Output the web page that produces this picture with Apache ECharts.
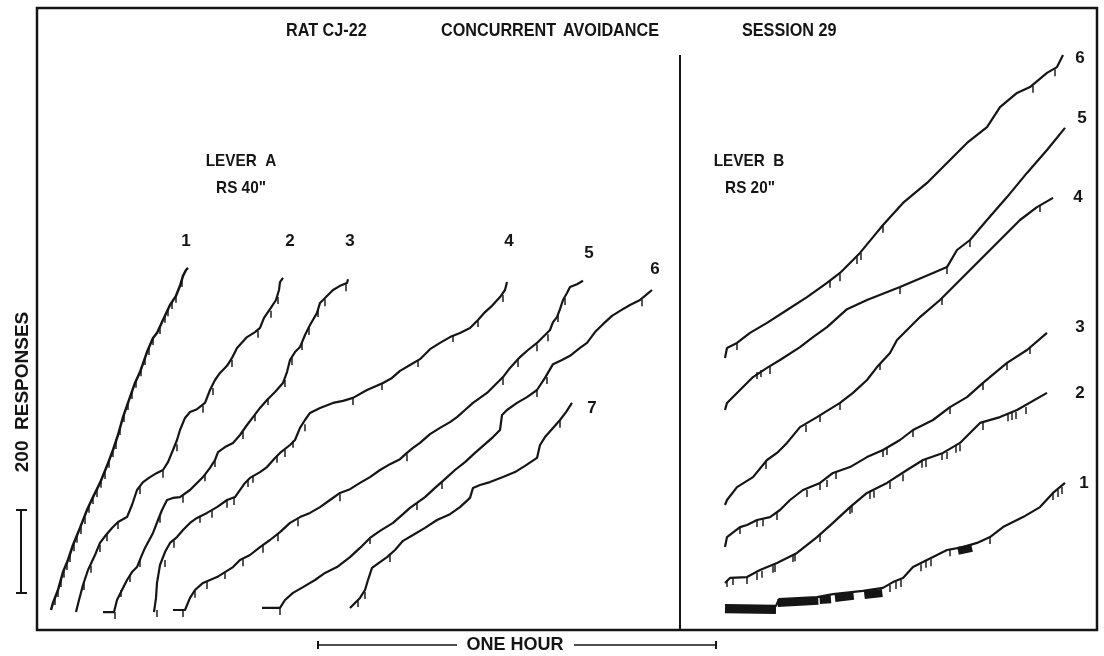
<!DOCTYPE html>
<html><head><meta charset="utf-8">
<script src="https://cdn.jsdelivr.net/npm/echarts@6/dist/echarts.min.js"></script>
<style>html,body{margin:0;padding:0;background:#fff}#c{width:1104px;height:656px}</style>
</head><body><div id="c"></div><script>
// x: minutes, y: cumulative responses
const A1 = [[2.1,48],[2.4,65],[3.15,96],[3.9,139],[4.65,168],[5.4,204],[6.45,245],[7.5,288],[8.4,319],[9.45,353],[10.5,394],[11.4,432],[12.15,468],[12.9,511],[13.95,559],[14.7,593],[15.45,619],[16.5,667],[17.4,701],[18,713],[18.9,744],[19.95,780],[20.85,802],[21.45,826],[21.9,850],[22.35,864],[22.65,869]];
const A1_PIPS = [[2.7,77],[3.15,96],[3.6,120],[4.05,142],[4.5,161],[4.95,180],[5.55,206],[6,226],[6.6,247],[7.2,271],[7.8,298],[8.4,319],[9,336],[9.6,358],[10.2,379],[10.8,406],[11.4,432],[11.85,451],[12.45,485],[13.05,516],[13.65,545],[14.25,571],[14.85,598],[15.6,626],[16.2,653],[16.8,677],[17.4,701],[18.45,727],[19.2,754],[19.65,770],[20.25,787],[20.85,802],[21.75,840]];
const A2 = [[5.85,43],[6.3,72],[6.9,108],[7.65,144],[8.7,180],[9.45,209],[10.35,228],[11.25,245],[12.15,259],[13.5,271],[14.25,300],[15,336],[15.9,355],[16.95,367],[18,377],[18.9,384],[19.65,403],[20.4,432],[21,456],[21.45,480],[22.2,509],[22.95,523],[24,530],[25.2,545],[25.95,576],[26.7,600],[27.45,617],[28.5,634],[29.25,653],[30,677],[31.5,703],[32.7,715],[33.45,725],[34.05,749],[34.95,770],[35.85,792],[36.3,816],[36.45,835],[36.9,845]];
const A2_PIPS = [[7.05,113],[8.1,154],[9.45,204],[10.5,230],[12.15,259],[15.45,343],[18.9,382],[21,446],[24.9,538],[26.4,581],[29.25,648],[33.15,718],[35.1,766],[36.15,799]];
const A3 = [[9.9,43],[11.55,43],[12,72],[12.75,96],[13.5,120],[14.25,139],[15,151],[15.6,175],[16.2,197],[17.4,233],[18.15,264],[18.75,288],[19.5,312],[20.4,317],[21.45,319],[22.95,336],[24,353],[24.9,367],[25.95,389],[26.7,408],[27.15,427],[28.2,439],[29.4,449],[30.45,468],[31.5,492],[32.4,511],[33.45,533],[34.5,552],[35.7,571],[36.9,593],[37.5,619],[37.95,648],[38.7,667],[39.45,679],[40.2,708],[40.95,732],[42,761],[42.45,785],[42.9,792],[43.65,804],[44.4,816],[45.45,826],[46.5,833],[46.65,842]];
const A3_PIPS = [[11.7,43],[12.6,96],[13.95,132],[15.45,168],[18.45,274],[21.9,322],[25.2,374],[26.7,408],[30.9,475],[32.7,518],[34.65,557],[37.2,600],[38.25,653],[39.75,689],[40.8,725],[42.15,768],[43.2,794],[46.35,830]];
const A4 = [[17.55,43],[17.85,77],[18,113],[18.45,156],[19.2,187],[19.95,209],[21,223],[21.9,240],[22.95,257],[24,269],[25.5,281],[27,295],[28.5,312],[29.7,319],[31.2,353],[31.95,365],[33.45,379],[34.5,391],[35.7,413],[36.45,425],[37.95,444],[38.7,456],[39.45,485],[40.2,504],[40.95,521],[42.45,533],[44.4,545],[45.9,550],[47.4,557],[49.5,576],[51.9,593],[53.25,605],[54.45,622],[55.95,636],[57.45,650],[58.95,674],[60.45,689],[61.95,703],[63.45,713],[64.95,725],[66.15,744],[67.2,763],[68.25,778],[69.45,799],[70.2,816],[70.5,835]];
const A4_PIPS = [[18,48],[19.2,168],[20.55,214],[24.45,274],[26.25,286],[28.5,310],[29.55,317],[31.65,360],[32.4,370],[36,418],[37.2,432],[38.4,454],[40.2,494],[47.4,557],[51.75,593],[57.15,648],[62.4,708],[66.15,744],[69.9,804]];
const A5 = [[20.4,48],[22.2,48],[22.95,77],[23.7,96],[24.9,113],[25.95,120],[27,127],[28.5,142],[29.4,151],[30.45,168],[31.95,180],[33.45,199],[34.95,216],[36.45,235],[37.95,257],[39.45,271],[40.95,281],[42.45,295],[43.95,312],[45.45,329],[46.95,338],[48.45,353],[49.95,367],[51.45,384],[52.95,398],[54.45,410],[55.5,425],[56.4,437],[57.45,449],[58.95,470],[60.45,485],[61.95,499],[63,511],[64.2,528],[65.4,545],[66.45,557],[67.5,569],[68.7,588],[69.9,607],[70.95,629],[72.45,655],[73.65,672],[75,689],[76.2,708],[76.95,720],[77.4,739],[78,751],[78.45,770],[78.9,792],[79.5,809],[79.95,823],[81,830],[81.9,838]];
const A5_PIPS = [[21.9,48],[23.7,94],[25.5,115],[28.2,139],[30.9,170],[33.9,202],[36.15,230],[39.15,266],[45.45,326],[55.5,422],[69.9,605],[72.15,648],[75,686],[76.65,710],[78.15,756],[79.2,797]];
const A6 = [[33.75,53],[36.45,53],[37.2,72],[38.4,89],[39.9,103],[41.7,120],[43.2,137],[45,151],[46.95,175],[48.45,197],[49.95,221],[51.45,238],[53.4,257],[54.9,278],[55.95,293],[57,305],[58.2,319],[59.7,341],[60.9,358],[62.7,384],[64.2,403],[65.7,425],[67.2,446],[68.4,463],[69.45,480],[69.75,516],[70.5,528],[72,545],[73.5,559],[75,576],[76.2,605],[77.4,638],[78.75,648],[79.95,658],[81.45,677],[82.5,689],[83.7,715],[84.9,734],[86.25,754],[87.45,766],[88.95,780],[90.45,792],[91.5,806],[92.25,816]];
const A6_PIPS = [[36.45,53],[49.95,223],[57,305],[60.75,355],[75,576],[76.5,607],[90.75,794]];
const A7 = [[46.95,53],[47.7,65],[48.45,77],[49.2,96],[49.65,120],[50.25,149],[51.45,163],[52.5,175],[53.7,192],[54.9,214],[56.4,228],[58.2,245],[60,264],[61.95,278],[63.45,295],[64.95,317],[65.4,341],[66.45,348],[67.95,355],[69.9,367],[71.7,379],[73.2,394],[75,413],[75.45,444],[76.2,463],[77.4,485],[78.45,504],[79.35,523],[80.25,545]];
const A7_PIPS = [[48.15,72],[49.2,91],[52.95,180],[78.45,502]];

const B6 = [[103.2,653],[103.5,677],[105,689],[106.95,713],[109.5,737],[112.5,768],[115.5,799],[118.5,833],[120.45,857],[122.4,888],[123.45,905],[125.4,943],[126.9,972],[129.9,1025],[133.5,1073],[136.5,1121],[139.5,1169],[142.5,1207],[144.45,1255],[147,1289],[148.95,1303],[151.5,1337],[153,1351],[153.9,1380]];
const B6_PIPS = [[105,689],[118.95,838],[120.45,854],[123,895],[123.6,905],[126.9,970],[149.4,1306],[152.7,1346]];
const B5 = [[103.2,528],[103.5,545],[105.45,576],[107.4,607],[109.5,629],[111.45,648],[114.45,679],[116.4,703],[118.5,727],[121.5,770],[124.5,792],[129.45,823],[134.4,857],[136.5,871],[138,912],[139.95,936],[142.5,984],[145.5,1039],[148.5,1097],[151.5,1152],[154.2,1205]];
const B5_PIPS = [[108,619],[108.6,624],[109.95,631],[129.45,823],[136.5,871],[139.95,936]];
const B4 = [[103.2,300],[103.5,312],[105,343],[107.4,367],[109.5,408],[111,425],[112.5,449],[114.45,487],[117,511],[120.45,545],[122.4,569],[124.5,600],[126,631],[127.95,665],[129,696],[130.5,720],[132.45,751],[135.45,792],[138.45,840],[141.45,888],[144.45,936],[147.45,984],[150,1015],[152.4,1037]];
const B4_PIPS = [[109.35,403],[115.35,492],[117.45,516],[120.45,545],[126.45,641],[135.75,797],[150.45,1020]];
const B3 = [[103.2,199],[103.5,223],[105.45,247],[106.5,252],[108,264],[109.95,271],[111.45,288],[112.95,312],[114.9,336],[117.45,353],[119.4,377],[121.95,391],[124.5,415],[126.9,432],[129.45,456],[131.4,480],[134.4,504],[136.95,535],[139.5,559],[141.9,593],[145.5,641],[148.5,672],[151.5,713]];
const B3_PIPS = [[105.45,247],[108,264],[108.9,266],[111,281],[115.5,336],[117.45,353],[118.5,360],[119.85,379],[126.9,432],[127.5,437],[131.4,480],[136.95,535],[141.9,593],[145.5,641],[148.95,679]];
const B2 = [[103.2,113],[103.95,125],[106.5,127],[108.45,144],[111,161],[114,185],[117,223],[119.4,257],[121.95,295],[124.5,329],[127.5,353],[130.5,384],[132.9,408],[135.9,425],[138.45,449],[141.45,497],[144.45,511],[147,528],[151.5,569]];
const B2_PIPS = [[103.5,120],[104.4,125],[106.5,127],[108,137],[108.75,142],[110.4,154],[110.7,156],[113.4,180],[113.7,182],[117.45,228],[121.95,295],[122.25,298],[124.95,331],[125.55,334],[127.95,355],[129.9,374],[132.75,406],[133.35,408],[135.75,425],[136.5,427],[137.85,442],[138.45,446],[141.9,497],[145.65,518],[146.25,521],[146.85,523],[148.35,535]];
const B1 = [[103.2,60],[110.85,58],[111.3,74],[117,79],[119.4,86],[123.9,94],[126.9,101],[128.4,115],[129.9,125],[131.4,151],[133.5,168],[136.5,192],[138.9,199],[141,209],[142.95,223],[144.9,247],[147.9,271],[150.45,295],[152.4,329],[154.2,353]];
const B1_PIPS = [[127.95,108],[128.85,115],[129.6,120],[132.6,158],[133.35,166],[134.1,170],[136.95,194],[142.95,223],[152.4,329],[153.15,336],[153.75,343]];
// runs of pips so dense they print as solid bands
const B1_BANDS = [[[103.2,50],[110.85,48]],[[111.1,65],[117.2,70]],[[117.4,72],[119.1,74]],[[119.7,77],[122.5,82]],[[124.1,84],[126.8,89]],[[138.15,190],[140.25,197]]];

const CURVES = [
  {name:'A1', data:A1, pips:A1_PIPS}, {name:'A2', data:A2, pips:A2_PIPS},
  {name:'A3', data:A3, pips:A3_PIPS}, {name:'A4', data:A4, pips:A4_PIPS},
  {name:'A5', data:A5, pips:A5_PIPS}, {name:'A6', data:A6, pips:A6_PIPS},
  {name:'A7', data:A7, pips:A7_PIPS},
  {name:'B6', data:B6, pips:B6_PIPS}, {name:'B5', data:B5, pips:B5_PIPS},
  {name:'B4', data:B4, pips:B4_PIPS}, {name:'B3', data:B3, pips:B3_PIPS},
  {name:'B2', data:B2, pips:B2_PIPS}, {name:'B1', data:B1, pips:B1_PIPS}
];

const TITLE_PARTS = ['RAT CJ-22','CONCURRENT','AVOIDANCE','SESSION 29'];
const LEVER_A = ['LEVER  A','RS 40"'];
const LEVER_B = ['LEVER  B','RS 20"'];
const LABELS_A = ['1','2','3','4','5','6','7'];
const LABELS_B = ['6','5','4','3','2','1'];
const Y_LABEL = '200  RESPONSES';
const X_LABEL = 'ONE HOUR';

const INK = '#151515';
const FONT = '"Liberation Sans", Arial, Helvetica, sans-serif';

const chart = echarts.init(document.getElementById('c'), null, {renderer:'canvas'});

const series = [];
CURVES.forEach(c => {
  series.push({type:'line', name:c.name, data:c.data, symbol:'none', smooth:false,
    lineStyle:{color:INK, width:c.name==='A1'?2.5:2.2}, animation:false, silent:true, z:3});
  series.push({type:'scatter', name:c.name+' pips', data:c.pips, symbol:'rect',
    symbolSize:[1.8,7], symbolOffset:[0,3.5], itemStyle:{color:INK}, animation:false, silent:true, z:3});
});
B1_BANDS.forEach((b,i) => {
  series.push({type:'line', name:'B1 band '+i, data:b, symbol:'none',
    lineStyle:{color:INK, width:8, cap:'butt'}, animation:false, silent:true, z:3});
});

const txt = (s, x, y, size, align, sx) => ({type:'text', x:x, y:y, silent:true, scaleX:sx||0.9,
  style:{text:s, fill:INK, font:'bold '+size+'px '+FONT, textAlign:align||'left', textVerticalAlign:'middle'}});

const labelPosA = [[186,241],[290,241],[350,241],[509,241],[589,253],[655,269],[592,408]];
const labelPosB = [[1080,58],[1082,118],[1078,197],[1080,327],[1080,393],[1084,483]];

const graphic = [
  txt(TITLE_PARTS[0], 286, 31, 18), txt(TITLE_PARTS[1], 441, 31, 18),
  txt(TITLE_PARTS[2], 563, 31, 18), txt(TITLE_PARTS[3], 742, 31, 18),
  txt(LEVER_A[0], 241, 161, 17, 'center'), txt(LEVER_A[1], 241, 188, 17, 'center'),
  txt(LEVER_B[0], 749, 161, 17, 'center'), txt(LEVER_B[1], 750, 188, 17, 'center'),
  {type:'line', silent:true, shape:{x1:680, y1:55, x2:680, y2:630}, style:{stroke:INK, lineWidth:2}},
  // 200 responses scale bar
  {type:'line', silent:true, shape:{x1:21, y1:510, x2:21, y2:593}, style:{stroke:INK, lineWidth:2}},
  {type:'line', silent:true, shape:{x1:16, y1:510, x2:27, y2:510}, style:{stroke:INK, lineWidth:2}},
  {type:'line', silent:true, shape:{x1:16, y1:593, x2:27, y2:593}, style:{stroke:INK, lineWidth:2}},
  {type:'text', silent:true, x:23, y:392, rotation:Math.PI/2, scaleX:1.0,
    style:{text:Y_LABEL, fill:INK, font:'bold 19px '+FONT, textAlign:'center', textVerticalAlign:'middle'}},
  // one hour scale bar
  {type:'line', silent:true, shape:{x1:318, y1:645, x2:457, y2:645}, style:{stroke:INK, lineWidth:1.6}},
  {type:'line', silent:true, shape:{x1:574, y1:645, x2:716, y2:645}, style:{stroke:INK, lineWidth:1.6}},
  {type:'line', silent:true, shape:{x1:318, y1:641, x2:318, y2:649}, style:{stroke:INK, lineWidth:2}},
  {type:'line', silent:true, shape:{x1:716, y1:641, x2:716, y2:649}, style:{stroke:INK, lineWidth:2}},
  txt(X_LABEL, 515, 645, 18, 'center', 1)
];
LABELS_A.forEach((s,i) => graphic.push(txt(s, labelPosA[i][0], labelPosA[i][1], 17, 'center', 1)));
LABELS_B.forEach((s,i) => graphic.push(txt(s, labelPosB[i][0], labelPosB[i][1], 17, 'center', 1)));

chart.setOption({
  backgroundColor:'#ffffff',
  animation:false,
  grid:{left:37, top:8, right:7, bottom:26, show:true, borderColor:INK, borderWidth:2.5, backgroundColor:'transparent'},
  xAxis:{type:'value', min:0, max:159, show:false},
  yAxis:{type:'value', min:0, max:1492.8, show:false},
  series:series,
  graphic:graphic
});
</script></body></html>
